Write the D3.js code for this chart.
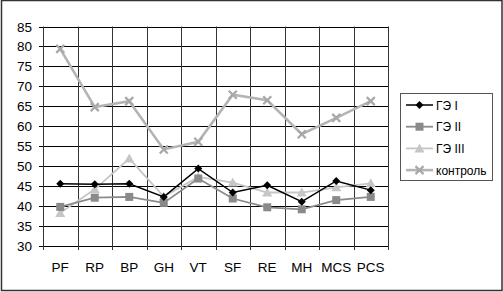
<!DOCTYPE html>
<html>
  <head>
    <meta charset="UTF-8" />
    <script src="https://d3js.org/d3.v7.min.js"></script>
    <style>
      body { margin: 0; background: #fff; }
      text { font-family: "Liberation Sans", Arial, sans-serif; }
    </style>
  </head>
  <body>
    <div id="chart"></div>
    <script>
      // categories and series
      const categories = ["PF", "RP", "BP", "GH", "VT", "SF", "RE", "MH", "MCS", "PCS"];
      const ge1 = [45.6, 45.5, 45.6, 42.3, 49.4, 43.4, 45.2, 41.1, 46.3, 44.0];
      const ge2 = [39.8, 42.1, 42.3, 40.8, 46.9, 41.9, 39.7, 39.2, 41.5, 42.3];
      const ge3 = [38.3, 44.2, 51.9, 42.4, 47.3, 45.9, 43.4, 43.4, 44.7, 45.7];
      const control = [79.4, 64.8, 66.3, 54.2, 56.1, 67.9, 66.5, 58.0, 62.1, 66.3];
      const seriesNames = ["ГЭ I", "ГЭ II", "ГЭ III", "контроль"];
      const yTicks = [30, 35, 40, 45, 50, 55, 60, 65, 70, 75, 80, 85];

      const W = 503, H = 292;
      const plot = { left: 43, right: 388, top: 26.5, bottom: 246 };

      const svg = d3.select("#chart").append("svg")
        .attr("width", W).attr("height", H);

      // outer frame
      svg.append("rect")
        .attr("x", 1.5).attr("y", 0.5)
        .attr("width", W - 2.5).attr("height", H - 2)
        .attr("fill", "#fff").attr("stroke", "#333").attr("stroke-width", 1.5);

      const x = d3.scaleBand().domain(categories).range([plot.left, plot.right]);
      const y = d3.scaleLinear().domain([30, 85]).range([plot.bottom, plot.top]);
      const cx = (c) => x(c) + x.bandwidth() / 2;

      // horizontal grid
      svg.append("g").selectAll("line").data(yTicks).join("line")
        .attr("x1", plot.left - 4).attr("x2", plot.right)
        .attr("y1", (d) => Math.round(y(d)) + 0.5).attr("y2", (d) => Math.round(y(d)) + 0.5)
        .attr("stroke", "#000").attr("stroke-width", 1);

      // vertical grid at category boundaries
      const bounds = categories.map((c) => x(c)).concat([plot.right]);
      svg.append("g").selectAll("line").data(bounds).join("line")
        .attr("x1", (d) => Math.round(d) + 0.5).attr("x2", (d) => Math.round(d) + 0.5)
        .attr("y1", plot.top).attr("y2", plot.bottom + 4)
        .attr("stroke", "#333").attr("stroke-width", 1);

      // y labels
      svg.append("g").selectAll("text").data(yTicks).join("text")
        .attr("x", 32).attr("y", (d) => y(d) + 5)
        .attr("text-anchor", "end").attr("font-size", 13.5)
        .text((d) => d);

      // x labels
      svg.append("g").selectAll("text").data(categories).join("text")
        .attr("x", (d) => cx(d)).attr("y", 272)
        .attr("text-anchor", "middle").attr("font-size", 13.5)
        .text((d) => d);

      const series = [
        { name: seriesNames[0], values: ge1, color: "#000", width: 1.5, marker: "diamond", mcolor: "#000" },
        { name: seriesNames[1], values: ge2, color: "#8a8a8a", width: 1.8, marker: "square", mcolor: "#8a8a8a" },
        { name: seriesNames[2], values: ge3, color: "#c6c6c6", width: 1.8, marker: "triangle", mcolor: "#c6c6c6" },
        { name: seriesNames[3], values: control, color: "#b4b4b4", width: 2.6, marker: "x", mcolor: "#a8a8a8" }
      ];

      function drawMarker(g, type, px, py, color) {
        if (type === "diamond") {
          g.append("path").attr("d", `M${px},${py - 4}L${px + 4},${py}L${px},${py + 4}L${px - 4},${py}Z`).attr("fill", color);
        } else if (type === "square") {
          g.append("rect").attr("x", px - 4).attr("y", py - 4).attr("width", 8).attr("height", 8).attr("fill", color);
        } else if (type === "triangle") {
          g.append("path").attr("d", `M${px},${py - 5}L${px + 5},${py + 4}L${px - 5},${py + 4}Z`).attr("fill", color);
        } else {
          g.append("path").attr("d", `M${px - 4},${py - 4}L${px + 4},${py + 4}M${px + 4},${py - 4}L${px - 4},${py + 4}M${px - 4},${py}`)
            .attr("stroke", color).attr("stroke-width", 2.2).attr("fill", "none");
        }
      }

      const line = d3.line().x((d, i) => cx(categories[i])).y((d) => y(d));

      // draw order: control at back, then III, II, I
      [series[3], series[2], series[1], series[0]].forEach((s) => {
        const g = svg.append("g");
        g.append("path").attr("d", line(s.values))
          .attr("fill", "none").attr("stroke", s.color).attr("stroke-width", s.width);
        s.values.forEach((v, i) => drawMarker(g, s.marker, cx(categories[i]), y(v), s.mcolor));
      });

      // legend
      const lg = svg.append("g");
      lg.append("rect").attr("x", 400.5).attr("y", 93.5).attr("width", 92).attr("height", 87)
        .attr("fill", "#fff").attr("stroke", "#555").attr("stroke-width", 1);
      series.forEach((s, i) => {
        const ly = 105 + i * 21.7;
        lg.append("line").attr("x1", 406).attr("x2", 433).attr("y1", ly).attr("y2", ly)
          .attr("stroke", s.color).attr("stroke-width", s.width);
        drawMarker(lg, s.marker, 419.5, ly, s.mcolor);
        lg.append("text").attr("x", 436).attr("y", ly + 4.5).attr("font-size", 12).text(s.name);
      });
    </script>
  </body>
</html>
